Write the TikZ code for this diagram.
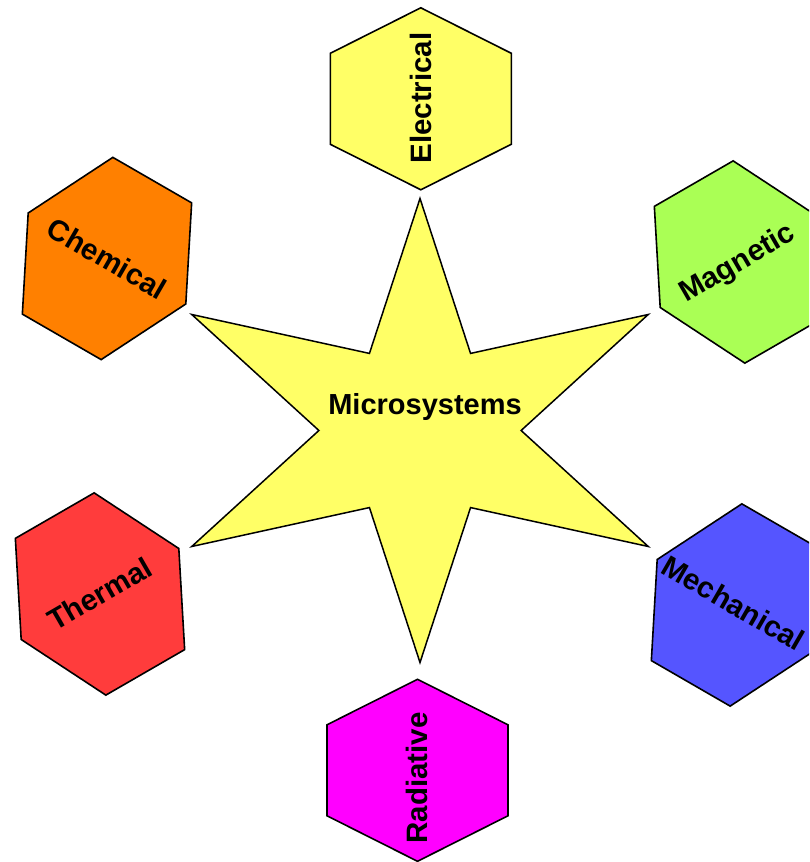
\documentclass[tikz,border=0pt]{standalone}
\usepackage{fontspec}
\setmainfont{Liberation Sans}
\usepackage{xcolor}

\definecolor{starYellow}{HTML}{FFFF66}
\definecolor{chemOrange}{HTML}{FF8000}
\definecolor{magGreen}{HTML}{AAFF55}
\definecolor{thermRed}{HTML}{FF3C3C}
\definecolor{mechBlue}{HTML}{5555FF}
\definecolor{radMagenta}{HTML}{FF00FF}

% hexagon: centre, angle, colour
\newcommand{\hexfield}[3]{%
  \draw[hexline, fill=#3, shift={#1}, rotate=#2]
    (-91,0) -- (-45.5,-90.5) -- (45.5,-90.5) -- (91,0) -- (45.5,90.5) -- (-45.5,90.5) -- cycle;}

\begin{document}
\begin{tikzpicture}[x=1pt, y=1pt,
    starbody/.style={draw, line width=1.5pt, fill=starYellow, line join=miter},
    hexline/.style={draw, line width=1.6pt, line join=miter},
    bigtext/.style={font=\bfseries\fontsize{29}{29}\selectfont, inner sep=0pt},
    hextext/.style={font=\bfseries\fontsize{29.5}{29.5}\selectfont, inner sep=0pt}]
  \useasboundingbox (0,0) rectangle (809,862);
  \clip (0,0) rectangle (809,862);

  % the star
  \draw[starbody, shift={(420,431.5)}, xscale=1.136]
    (90:232) -- (60:89) -- (30:232) -- (0:89) -- (-30:232) -- (-60:89)
    -- (-90:232) -- (-120:89) -- (-150:232) -- (180:89) -- (150:232) -- (120:89) -- cycle;
  \node[bigtext, anchor=base] (micro) at (425,447) {Microsystems};

  % the six fields
  \hexfield{(420.8,763.2)}{90}{starYellow}
  \node[hextext, rotate=90] (electrical) at (420.8,764) {Electrical};

  \hexfield{(107,603.5)}{-30}{chemOrange}
  \node[hextext, rotate=-30] (chemical) at (107,603.5) {Chemical};

  \hexfield{(739,600)}{30}{magGreen}
  \node[hextext, rotate=30] (magnetic) at (738,598) {Magnetic};

  \hexfield{(100,268)}{30}{thermRed}
  \node[hextext, rotate=30] (thermal) at (99.5,268.5) {Thermal};

  \hexfield{(736,257)}{-30}{mechBlue}
  \node[hextext, rotate=-30] (mechanical) at (733.5,259) {Mechanical};

  \hexfield{(417.5,91.7)}{90}{radMagenta}
  \node[hextext, rotate=90] (radiative) at (417,84) {Radiative};
\end{tikzpicture}
\end{document}
